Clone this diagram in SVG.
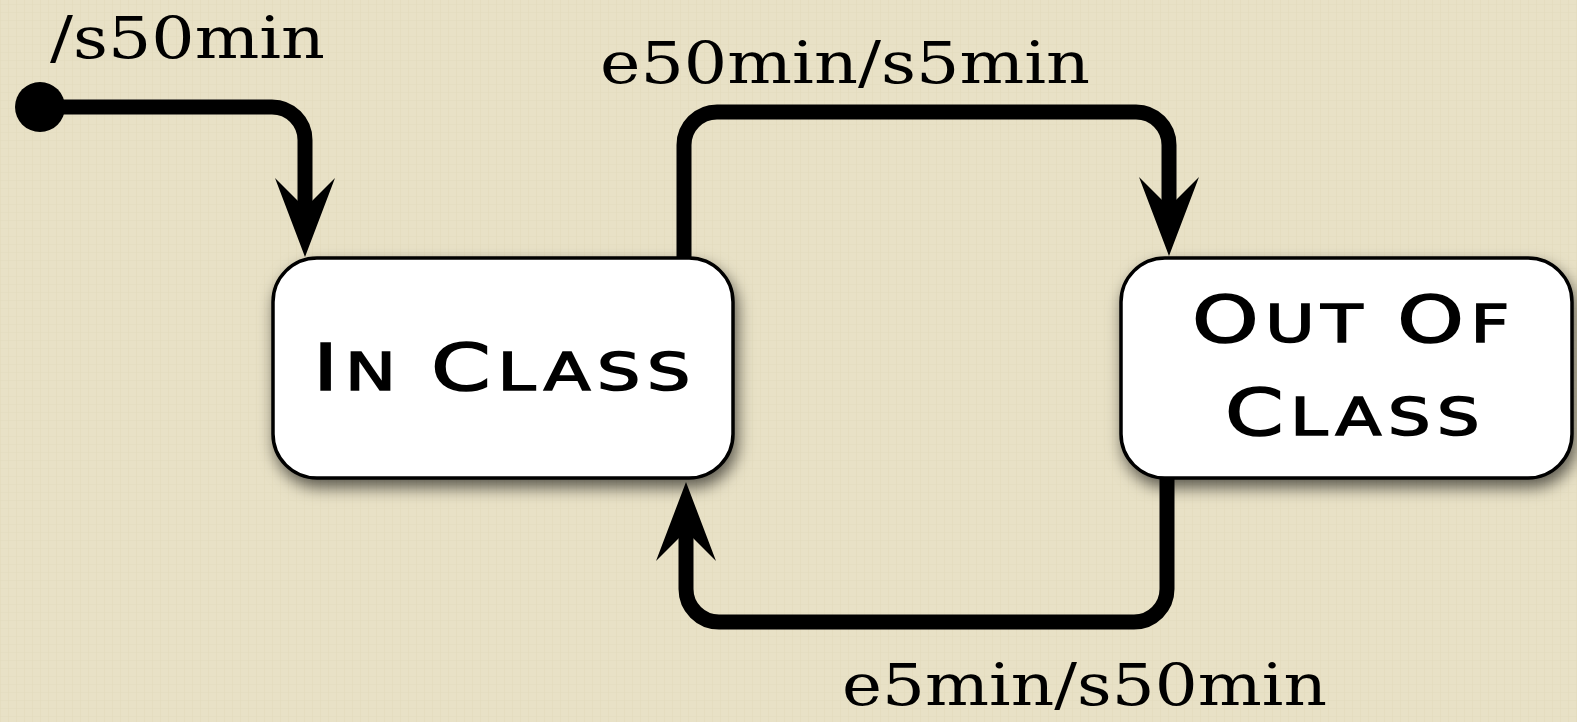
<svg xmlns="http://www.w3.org/2000/svg" width="1577" height="722" viewBox="0 0 1577 722">
  <defs>
    <filter id="shadow" x="-20%" y="-20%" width="140%" height="150%">
      <feDropShadow dx="3" dy="8" stdDeviation="8" flood-color="#000" flood-opacity="0.6"/>
    </filter>
    <pattern id="tex" width="8" height="8" patternUnits="userSpaceOnUse">
      <rect width="8" height="8" fill="#e8e1c6"/>
      <rect x="0" y="0" width="1" height="8" fill="#e2dbbd" opacity="0.6"/>
      <rect x="0" y="4" width="8" height="1" fill="#e2dbbd" opacity="0.5"/>
    </pattern>
  </defs>
  <style>
    .state { fill: #ffffff; stroke: #000000; stroke-width: 3.5; }
    .wire { fill: none; stroke: #000000; stroke-width: 15; stroke-linecap: round; stroke-linejoin: round; }
    .head { fill: #000000; stroke: none; }
    .label { font-family: "DejaVu Serif", "Liberation Serif", serif; font-size: 58px; fill: #000000; }
    .name { font-family: "DejaVu Sans", "Liberation Sans", sans-serif; font-weight: normal; fill: #000000; stroke: #000000; stroke-width: 1.6px; letter-spacing: 5px; }
    .big { font-size: 64px; }
    .small { font-size: 51px; }
  </style>
  <rect width="1577" height="722" fill="url(#tex)"/>

  <g id="connectors">
    <!-- initial -->
    <circle cx="40" cy="107" r="25" fill="#000000"/>
    <path class="wire" d="M 40 107 H 272 A 33 33 0 0 1 305 140 V 205"/>
    <path class="head" d="M 305 257 L 275 178 L 305 208 L 335 178 Z"/>
    <!-- In Class -> Out Of Class -->
    <path class="wire" d="M 684 262 V 145 A 33 33 0 0 1 717 112 H 1136 A 33 33 0 0 1 1169 145 V 205"/>
    <path class="head" d="M 1169 256 L 1139 177 L 1169 207 L 1199 177 Z"/>
    <!-- Out Of Class -> In Class -->
    <path class="wire" d="M 1167 476 V 589 A 33 33 0 0 1 1134 622 H 719 A 33 33 0 0 1 686 589 V 535"/>
    <path class="head" d="M 686 482 L 656 561 L 686 531 L 716 561 Z"/>
  </g>

  <g id="label-initial">
    <text class="label" x="50" y="58" font-size="54" textLength="275" lengthAdjust="spacingAndGlyphs">/s50min</text>
  </g>
  <g id="label-top">
    <text class="label" x="600" y="83" textLength="490" lengthAdjust="spacingAndGlyphs">e50min/s5min</text>
  </g>
  <g id="label-bottom">
    <text class="label" x="842" y="705" textLength="485" lengthAdjust="spacingAndGlyphs">e5min/s50min</text>
  </g>

  <g id="in-class">
    <rect class="state" x="273" y="258" width="460" height="220" rx="44" ry="44" filter="url(#shadow)"/>
    <text class="name" x="313" y="390" textLength="384" lengthAdjust="spacingAndGlyphs"><tspan class="big">I</tspan><tspan class="small">N </tspan><tspan class="big">C</tspan><tspan class="small">LASS</tspan></text>
  </g>

  <g id="out-of-class">
    <rect class="state" x="1121" y="258" width="451" height="220" rx="44" ry="44" filter="url(#shadow)"/>
    <text class="name" x="1192" y="342" textLength="324" lengthAdjust="spacingAndGlyphs"><tspan class="big">O</tspan><tspan class="small">UT </tspan><tspan class="big">O</tspan><tspan class="small">F</tspan></text>
    <text class="name" x="1225" y="435" textLength="261" lengthAdjust="spacingAndGlyphs"><tspan class="big">C</tspan><tspan class="small">LASS</tspan></text>
  </g>
</svg>
